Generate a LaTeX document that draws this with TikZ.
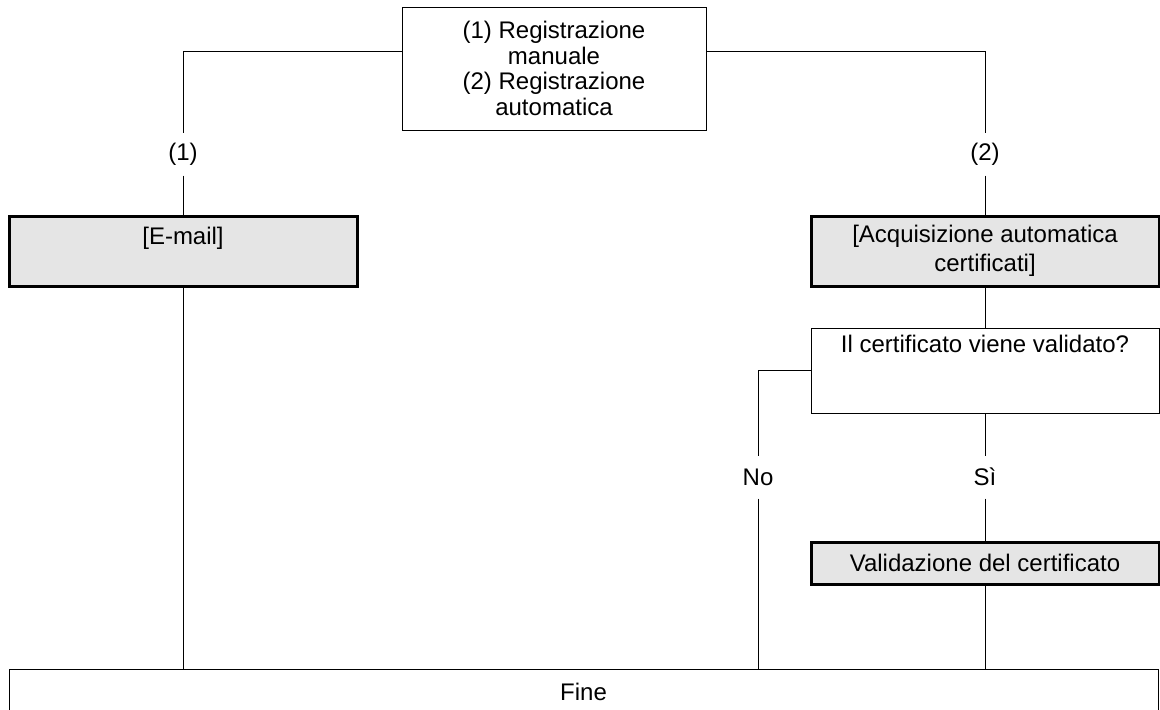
\documentclass[tikz,border=0pt]{standalone}
\usepackage{fontspec}
\setmainfont{Liberation Sans}

\begin{document}
\begin{tikzpicture}[x=0.5pt, y=-0.5pt, node distance=48.5pt, line width=0.5pt, font=\fontsize{12}{12.75}\selectfont]
    \tikzstyle{box}=[draw=black, fill=white, line width=0.5pt, align=center, inner sep=0pt]
    \tikzstyle{greybox}=[box, fill=black!10, line width=1.5pt, minimum width=174pt]
    \tikzstyle{tag}=[inner sep=0pt, minimum height=21pt]
    \useasboundingbox (0,0) rectangle (1160,709);
    \node[box, minimum width=152pt, minimum height=61.5pt] (reg) at (554,68.5) {(1) Registrazione\\manuale\\(2) Registrazione\\automatica};
    \node[tag] (t1) at (183,154) {(1)};
    \node[tag] (t2) at (985,154) {(2)};
    \node[greybox, minimum height=35pt, below of=t1] (email) {[E-mail]\\[2pt]\mbox{}};
    \node[greybox, minimum height=35pt, below of=t2] (acq) {[Acquisizione automatica\\[1.5pt]certificati]};
    \node[box, minimum width=174pt, minimum height=42.5pt, below of=acq, yshift=-11.25pt] (quest) {Il certificato viene validato?\\[1pt]\mbox{}\\\mbox{}};
    \node[tag, below of=quest, yshift=-4.75pt] (si) {Sì};
    \node[tag] (no) at (758,477) {No};
    \node[greybox, minimum height=21pt, below of=si, yshift=5.5pt] (val) {Validazione del certificato};
    \node[box, minimum width=574.5pt, minimum height=23pt] (fine) at (583.5,692) {Fine};
    \draw ([yshift=8.75pt]reg.west) -| (t1);
    \draw ([yshift=8.75pt]reg.east) -| (t2);
    \draw (t1) -- (email);
    \draw (t2) -- (acq);
    \draw (acq) -- (quest);
    \draw (quest) -- (si);
    \draw (si) -- (val);
    \draw (quest.west) -| (no);
    \draw (no) -- (no |- fine.north);
    \draw (email) -- (email |- fine.north);
    \draw (val) -- (val |- fine.north);
\end{tikzpicture}
\end{document}
